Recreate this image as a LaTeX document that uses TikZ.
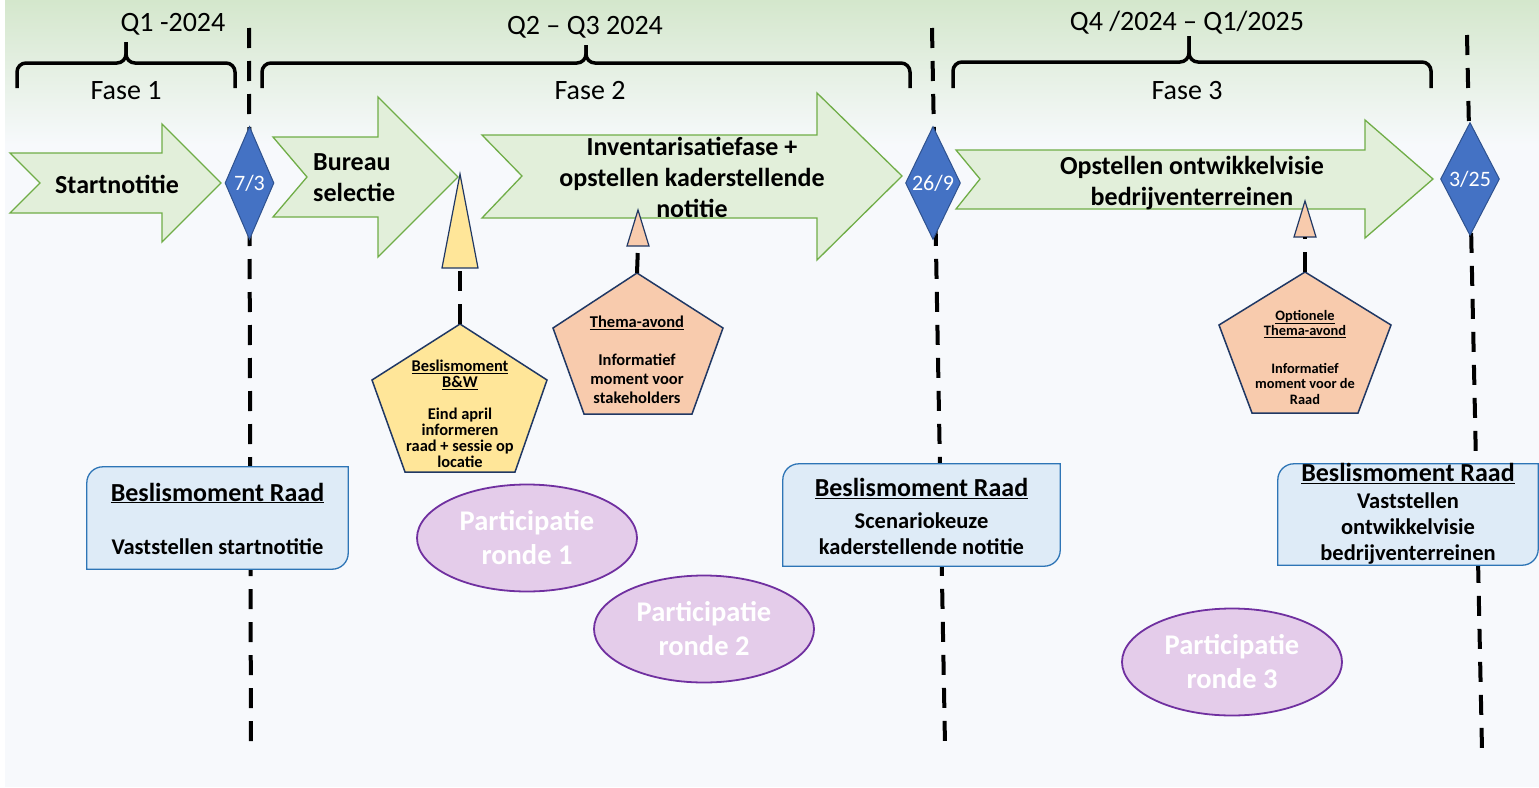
\documentclass[tikz,border=0pt]{standalone}
\usepackage{fontspec}
\setmainfont{Carlito}
\usepackage{xcolor}
\usepackage{tikz}
\usetikzlibrary{shapes.geometric}
\definecolor{bggreen}{HTML}{D4E7CC}
\definecolor{bgwhite}{HTML}{F7F9FC}
\definecolor{arrowfill}{HTML}{E2EFDA}
\definecolor{arrowline}{HTML}{70AD47}
\definecolor{datefill}{HTML}{4472C4}
\definecolor{dateline}{HTML}{2F528F}
\definecolor{navyline}{HTML}{203864}
\definecolor{bwfill}{HTML}{FFE699}
\definecolor{themafill}{HTML}{F8CBAD}
\definecolor{raadfill}{HTML}{DEEBF7}
\definecolor{raadline}{HTML}{2E75B6}
\definecolor{partfill}{HTML}{E4CCEA}
\definecolor{partline}{HTML}{7030A0}
\tikzstyle{period} = [inner sep=0, font=\fontsize{28}{34}\selectfont]
\tikzstyle{phasebrace} = [line width=3.5pt, rounded corners=9pt]
\tikzstyle{timeline} = [line width=4pt, dash pattern=on 20pt off 13pt]
\tikzstyle{phasearrow} = [fill=arrowfill, draw=arrowline, line width=1.3pt]
\tikzstyle{arrowtext} = [inner sep=0, align=center, font=\fontsize{26}{31}\selectfont\bfseries]
\tikzstyle{date} = [diamond, aspect=0.45, minimum width=52pt, minimum height=113pt, inner sep=0, fill=datefill, draw=dateline, line width=1pt, text=white, font=\fontsize{22}{26}\selectfont]
\tikzstyle{marker} = [draw=navyline, line width=1.2pt]
\tikzstyle{moment} = [draw=navyline, line width=1.5pt]
\tikzstyle{momenttext} = [inner sep=0, align=center]
\tikzstyle{link} = [line width=4pt, dash pattern=on 20pt off 13pt]
\tikzstyle{raadbox} = [rectangle, inner sep=0]
\tikzstyle{raadframe} = [fill=raadfill, draw=raadline, line width=1.3pt]
\tikzstyle{raadtext} = [inner sep=0, align=center, font=\fontsize{22.5}{26}\selectfont\bfseries]
\tikzstyle{ronde} = [ellipse, minimum width=220pt, minimum height=107pt, inner sep=0, fill=partfill, draw=partline, line width=1.8pt, text=white, align=center, font=\fontsize{28.5}{34}\selectfont\bfseries]
\begin{document}
\begin{tikzpicture}[x=1pt, y=-1pt]
	
	\useasboundingbox (0,0) rectangle (1539,787);
	\fill[white] (0,0) rectangle (1539,787);
	\shade[top color=bggreen, bottom color=bgwhite] (5,0) rectangle (1539,145);
	\fill[bgwhite] (5,145) rectangle (1539,787);
	
	\node[period] (Q1) at (173,24) {Q1 -2024};
	\node[period] (Fase1) at (126,91) {Fase 1};
	\node[period] (Q2) at (585,27) {Q2 -- Q3 2024};
	\node[period] (Fase2) at (590,91) {Fase 2};
	\node[period] (Q4) at (1187,23) {Q4 /2024 -- Q1/2025};
	\node[period] (Fase3) at (1187,91) {Fase 3};
	\draw[phasebrace] (17,88) -- (17,63) -- (126,63) -- (126,42);
	\draw[phasebrace] (235,88) -- (235,63) -- (126,63) -- (126,42);
	\draw[phasebrace] (262,88) -- (262,63) -- (586,63) -- (586,45);
	\draw[phasebrace] (910,88) -- (910,63) -- (586,63) -- (586,45);
	\draw[phasebrace] (953,88) -- (953,62) -- (1189,62) -- (1189,36);
	\draw[phasebrace] (1431,88) -- (1431,62) -- (1189,62) -- (1189,36);
	
	\coordinate (Line1Top) at (249,28);
	\coordinate (Line1End) at (251,752);
	\coordinate (Line2Top) at (932,28);
	\coordinate (Line2End) at (945,745);
	\coordinate (Line3Top) at (1467,35);
	\coordinate (Line3End) at (1482,750);
	\draw[timeline] (Line1Top) -- (Line1End);
	\draw[timeline] (Line2Top) -- (Line2End);
	\draw[timeline] (Line3Top) -- (Line3End);
	
	\draw[phasearrow] (10,153) -- (162,153) -- (162,124) -- (221,183) -- (162,242) -- (162,213) -- (10,213) -- (40,183) -- cycle;
	\draw[phasearrow] (273,137) -- (378,137) -- (378,97) -- (458,177) -- (378,257) -- (378,217) -- (273,217) -- (307,177) -- cycle;
	\draw[phasearrow] (482,135) -- (817,135) -- (817,93) -- (902,176) -- (817,260) -- (817,218) -- (482,218) -- (522,176) -- cycle;
	\draw[phasearrow] (956,150) -- (1365,150) -- (1365,120) -- (1433,179) -- (1365,238) -- (1365,209) -- (956,209) -- (980,179) -- cycle;
	\node[arrowtext] (Startnotitie) at (117,184) {Startnotitie};
	\node[arrowtext, align=left, anchor=west] (Bureau) at (313,178) {Bureau\\selectie};
	\node[arrowtext] (Inventarisatie) at (692,177) {Inventarisatiefase +\\opstellen kaderstellende\\notitie};
	\node[arrowtext] (Ontwikkelvisie) at (1192,183) {Opstellen ontwikkelvisie\\bedrijventerreinen};
	
	\node[date, minimum width=49pt] (Date1) at (249.5,183) {7/3};
	\node[date, minimum width=55pt] (Date2) at (933,183) {26/9};
	\node[date, minimum width=59pt] (Date3) at (1470,179) {3/25};
	
	\draw[marker, fill=bwfill] (460,174) -- (478,268) -- (442,268) -- cycle;
	\draw[marker, fill=themafill] (638,210) -- (649,246) -- (627,246) -- cycle;
	\draw[marker, fill=themafill] (1305,201) -- (1316,237) -- (1294,237) -- cycle;
	\coordinate (TriBW) at (460,268);
	\coordinate (TriThema) at (638,246);
	\coordinate (TriOptie) at (1305,237);
	
	\draw[moment, fill=bwfill] (460,324) -- (547,380) -- (515,472) -- (405,472) -- (372,380) -- cycle;
	\draw[moment, fill=themafill] (637,273) -- (723,328) -- (692,414) -- (584,414) -- (553,328) -- cycle;
	\draw[moment, fill=themafill] (1305,272) -- (1391,325) -- (1358,413) -- (1252,413) -- (1219,325) -- cycle;
	\coordinate (PentaBW) at (460,324);
	\coordinate (PentaThema) at (637,273);
	\coordinate (PentaOptie) at (1305,272);
	\node[momenttext, font=\fontsize{16.4}{16}\selectfont\bfseries] (BW) at (460,414) {\underline{Beslismoment}\\\underline{B\&W}\\[16pt]Eind april\\informeren\\raad + sessie op\\locatie};
	\node[momenttext, font=\fontsize{16.5}{19}\selectfont\bfseries] (Thema) at (637,360) {\underline{Thema-avond}\\[19pt]Informatief\\moment voor\\stakeholders};
	\node[momenttext, font=\fontsize{14.4}{15.5}\selectfont\bfseries] (Optie) at (1305,357) {\underline{Optionele}\\\underline{Thema-avond}\\[22pt]Informatief\\moment voor de\\Raad};
	\draw[link] (PentaBW) -- (TriBW);
	\draw[link] (PentaThema) -- (TriThema);
	\draw[link] (PentaOptie) -- (TriOptie);
	
	\node[raadbox, minimum width=261pt, minimum height=102pt] (Raad1) at (217.5,518) {};
	\node[raadbox, minimum width=277pt, minimum height=102pt] (Raad2) at (921.5,515) {};
	\node[raadbox, minimum width=260pt, minimum height=101pt] (Raad3) at (1408,514.5) {};
	\draw[raadframe] (Raad1.south west) [rounded corners=16pt] -- (Raad1.north west) [sharp corners] -- (Raad1.north east) [rounded corners=16pt] -- (Raad1.south east) [sharp corners] -- cycle;
	\draw[raadframe] (Raad2.south west) [rounded corners=16pt] -- (Raad2.north west) [sharp corners] -- (Raad2.north east) [rounded corners=16pt] -- (Raad2.south east) [sharp corners] -- cycle;
	\draw[raadframe] (Raad3.south west) [rounded corners=16pt] -- (Raad3.north west) [sharp corners] -- (Raad3.north east) [rounded corners=16pt] -- (Raad3.south east) [sharp corners] -- cycle;
	\node[raadtext] (Raad1Text) at (217.5,518.5) {{\fontsize{26}{26}\selectfont\underline{Beslismoment Raad}}\\[27pt]Vaststellen startnotitie};
	\node[raadtext] (Raad2Text) at (921.5,516.5) {{\fontsize{26}{26}\selectfont\underline{Beslismoment Raad}}\\[6pt]Scenariokeuze\\kaderstellende notitie};
	\node[raadtext] (Raad3Text) at (1408,514) {{\fontsize{26}{26}\selectfont\underline{Beslismoment Raad}}\\[1pt]Vaststellen\\ontwikkelvisie\\bedrijventerreinen};
	
	\node[ronde] (Ronde1) at (527,538) {Participatie\\ronde 1};
	\node[ronde] (Ronde2) at (704,629) {Participatie\\ronde 2};
	\node[ronde] (Ronde3) at (1232,662) {Participatie\\ronde 3};
	
\end{tikzpicture}
\end{document}
